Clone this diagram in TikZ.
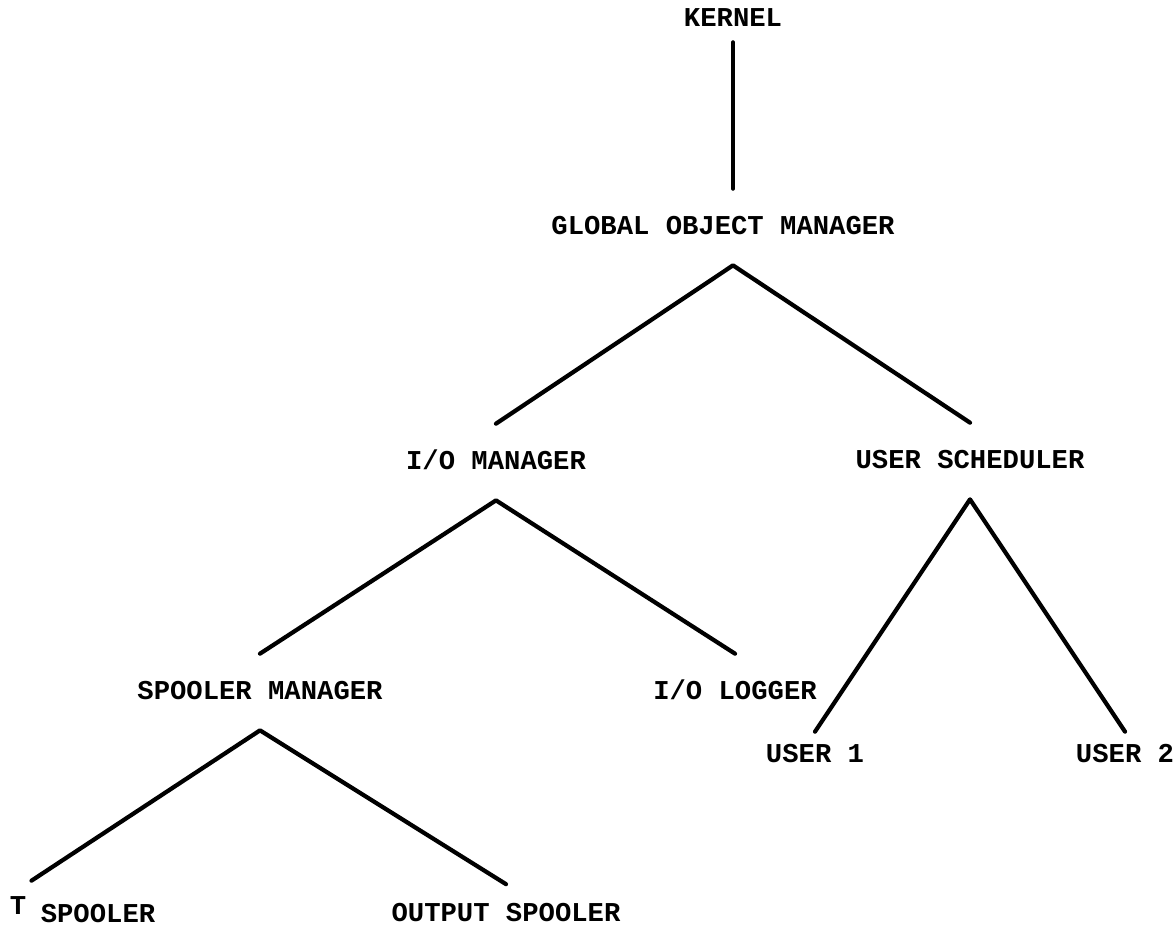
\documentclass[tikz,border=0pt]{standalone}
\usepackage{fontspec}
\setmonofont{Liberation Mono}
\usepackage{tikz}
\usetikzlibrary{positioning}

\begin{document}
\begin{tikzpicture}[
    x=0.02cm,
    y=-0.02cm,
    lbl/.style={
        inner xsep=0pt,
        inner ysep=0.61cm,
        text height=0.3cm,
        text depth=0pt,
        font=\ttfamily\bfseries\fontsize{15.5}{18}\selectfont
    },
    link/.style={
        line width=2.4pt,
        line cap=round,
        line join=round
    }
]

\useasboundingbox (0,0) rectangle (1176,927);

% levels of the hierarchy
\node[lbl, inner ysep=0.31cm] (kernel) at (733,19) {KERNEL};

\node[lbl] (gom) at (723,227) {GLOBAL OBJECT MANAGER};

\node[lbl] (iomgr) at (496,462) {I/O MANAGER};
\node[lbl] (sched) at (970,461) {USER SCHEDULER};

\node[lbl] (spoolmgr) at (260,692) {SPOOLER MANAGER};
\node[lbl] (logger) at (735,692) {I/O LOGGER};

\node[lbl, inner ysep=0.31cm] (userone) at (815,755) {USER 1};
\node[lbl, inner ysep=0.31cm] (usertwo) at (1125,755) {USER 2};

\node[lbl, inner xsep=0.1cm, inner ysep=0.37cm] (tchar) at (18,907) {T};
\node[lbl] (inspool) at (98,915) {SPOOLER};
\node[lbl, inner ysep=0.44cm] (outspool) at (506,914) {OUTPUT SPOOLER};

% connectors
\draw[link] (kernel.south) -- (kernel.south |- gom.north);
\draw[link] (iomgr.north) -- (kernel.south |- gom.south) -- (sched.north);
\draw[link] (spoolmgr.north) -- (iomgr.south) -- (logger.north);
\draw[link] (userone.north) -- (sched.south) -- (usertwo.north);
\draw[link] (tchar.north east) -- (spoolmgr.south) -- (outspool.north);

\end{tikzpicture}
\end{document}
